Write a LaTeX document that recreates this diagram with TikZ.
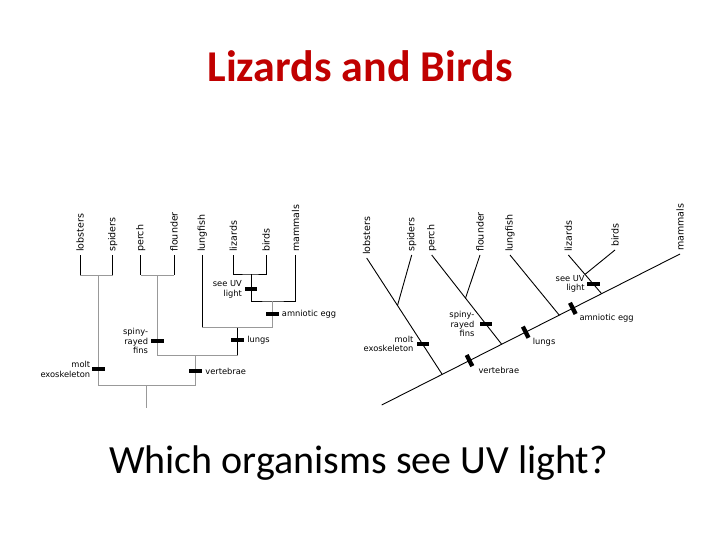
\documentclass[tikz,border=0pt]{standalone}
\usepackage{fontspec}
\setmainfont{Carlito}
\newfontfamily\labfont{DejaVu Sans}
\usetikzlibrary{positioning,calc}
\definecolor{titlered}{RGB}{192,0,0}

\begin{document}
\begin{tikzpicture}[x=1pt,y=-1pt,
  stem/.style={draw=black,line width=0.9pt},
  link/.style={draw=black!40,line width=0.9pt},
  leaf/.style={rotate=90,anchor=west,inner sep=3pt,font=\labfont\fontsize{9.5}{11}\selectfont},
  note/.style={inner sep=0pt,font=\labfont\fontsize{8.3}{9.5}\selectfont},
  bar/.style={fill=black,inner sep=0pt,minimum width=12.5pt,minimum height=4.3pt},
  tbar/.style={bar,rotate=-63.2},
  node distance=2.5pt]
\useasboundingbox (0,0) rectangle (720,540);

\node[font=\bfseries\fontsize{44}{50}\selectfont,text=titlered,anchor=base] (title) at (360,81.5) {Lizards and Birds};
\node[font=\fontsize{40}{46}\selectfont,anchor=base] (question) at (358.5,473) {Which organisms see UV light?};

% left tree: square cladogram
\node[leaf] (lobL) at (80,255) {lobsters};
\node[leaf] (spiL) at (112.7,255) {spiders};
\node[leaf] (perL) at (140.7,255) {perch};
\node[leaf] (floL) at (174,255) {flounder};
\node[leaf] (lunL) at (202.3,255) {lungfish};
\node[leaf] (lizL) at (233.3,255) {lizards};
\node[leaf] (birL) at (266,255) {birds};
\node[leaf] (mamL) at (295.7,255) {mammals};

\coordinate (lsj) at (98.3,275);
\coordinate (pfj) at (157.7,275);
\coordinate (lbj) at (251,274);
\coordinate (amj) at (272.3,301);
\coordinate (luj) at (237.7,327.7);
\coordinate (vej) at (195.7,355.7);
\coordinate (roj) at (146.7,385);
\coordinate (roL) at (146.7,408.3);

\draw[stem] (lobL.west) -- (lobL.west |- lsj);
\draw[stem] (spiL.west) -- (spiL.west |- lsj);
\draw[link] (lobL.west |- lsj) -- (spiL.west |- lsj);
\draw[link] (lsj) -- (lsj |- roj);
\draw[stem] (perL.west) -- (perL.west |- pfj);
\draw[stem] (floL.west) -- (floL.west |- pfj);
\draw[link] (perL.west |- pfj) -- (floL.west |- pfj);
\draw[link] (pfj) -- (pfj |- vej);
\draw[stem] (lizL.west) |- (lbj) -| (birL.west);
\draw[stem] (lbj) |- (amj) -| (mamL.west);
\draw[link] (amj) -- (amj |- luj);
\draw[stem] (lunL.west) -- (lunL.west |- luj);
\draw[link] (lunL.west |- luj) -- (amj |- luj);
\draw[stem] (luj) -- (luj |- vej);
\draw[link] (pfj |- vej) -- (luj |- vej);
\draw[link] (vej) -- (vej |- roj);
\draw[link] (lsj |- roj) -- (vej |- roj);
\draw[link] (roj) -- (roL);

\node[bar] (uvLm) at (251,289.3) {};
\node[note,align=right,left=of uvLm] (uvLt) {see UV\\light};
\node[bar] (amLm) at (272.3,314) {};
\node[note,right=3pt of amLm] (amLt) {amniotic egg};
\node[bar] (luLm) at (237.7,340) {};
\node[note,right=3pt of luLm] (luLt) {lungs};
\node[bar] (spLm) at (157.7,341) {};
\node[note,align=right,left=3pt of spLm] (spLt) {spiny-\\rayed\\fins};
\node[bar] (veLm) at (195.7,371) {};
\node[note,right=3pt of veLm] (veLt) {vertebrae};
\node[bar] (moLm) at (98.3,369.3) {};
\node[note,align=right,left=1.5pt of moLm] (moLt) {molt\\exoskeleton};

% right tree: slanted cladogram
\node[leaf] (lobR) at (366.7,258) {lobsters};
\node[leaf] (spiR) at (411.7,255) {spiders};
\node[leaf] (perR) at (431.7,255) {perch};
\node[leaf] (floR) at (480,255) {flounder};
\node[leaf] (lunR) at (510,255) {lungfish};
\node[leaf] (lizR) at (568.3,255) {lizards};
\node[leaf] (birR) at (615,250) {birds};
\node[leaf] (mamR) at (680,254) {mammals};

\coordinate (base) at (381.7,405);
\coordinate (lobJ) at (442.2,374.4);
\coordinate (perJ) at (501.7,344.3);
\coordinate (lunJ) at (559.3,315.2);
\coordinate (lizJ) at (601.7,293.8);
\coordinate (spiJ) at (397.5,305.5);
\coordinate (floJ) at (465.5,298.2);
\coordinate (birJ) at (585,274.4);

\draw[stem] (base) -- (mamR.west);
\draw[stem] (lobR.west) -- (lobJ);
\draw[stem] (spiR.west) -- (spiJ);
\draw[stem] (perR.west) -- (perJ);
\draw[stem] (floR.west) -- (floJ);
\draw[stem] (lunR.west) -- (lunJ);
\draw[stem] (lizR.west) -- (lizJ);
\draw[stem] (birR.west) -- (birJ);

\node[tbar] (veRm) at (469.5,360.6) {};
\node[note,anchor=west] (veRt) at ([shift={(8.8,9.4)}]veRm.center) {vertebrae};
\node[tbar] (luRm) at (525.7,332.2) {};
\node[note,anchor=west] (luRt) at ([shift={(7,10)}]luRm.center) {lungs};
\node[tbar] (amRm) at (572.8,308.4) {};
\node[note,anchor=west] (amRt) at ([shift={(6.5,10)}]amRm.center) {amniotic egg};
\node[bar] (moRm) at (423,344) {};
\node[note,align=right,left=3pt of moRm] (moRt) {molt\\exoskeleton};
\node[bar] (spRm) at (486,324.3) {};
\node[note,align=right,left=5pt of spRm] (spRt) {spiny-\\rayed\\fins};
\node[bar] (uvRm) at (593.3,284) {};
\node[note,align=right,left=2pt of uvRm] (uvRt) {see UV\\light};
\end{tikzpicture}
\end{document}
